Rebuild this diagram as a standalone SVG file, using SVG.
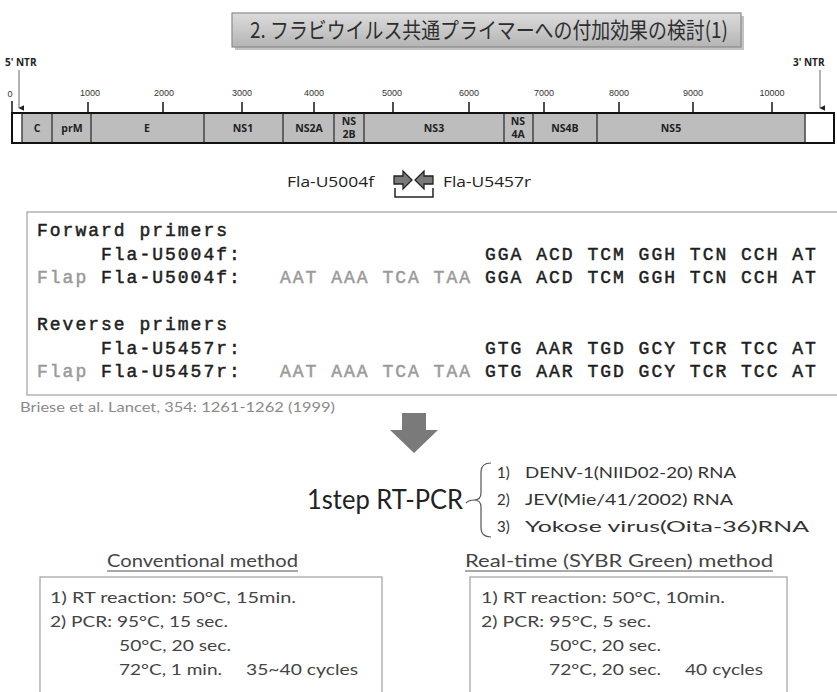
<svg xmlns="http://www.w3.org/2000/svg" width="837" height="692" viewBox="0 0 837 692">
<style>
.mono{font-family:"Liberation Mono","Courier New",monospace;font-size:18px;font-weight:normal;letter-spacing:2px;fill:#1e1e1e;stroke:#1e1e1e;stroke-width:0.5px}
.grey{fill:#9a9a9a;stroke:#9a9a9a}
.cal{font-family:Lato,"Open Sans",sans-serif;fill:#444}
.tick{font-family:"Liberation Sans",Arial,sans-serif;font-size:9px;fill:#333;text-anchor:middle}
.reg{font-family:"Open Sans","Liberation Sans",sans-serif;font-size:10.5px;font-weight:bold;fill:#222;text-anchor:middle}
.ntr{font-family:"Open Sans","Liberation Sans",sans-serif;font-size:10px;font-weight:bold;fill:#222}
.tk{stroke:#222;stroke-width:1.6}
.box{fill:#fff;stroke:#a0a0a0;stroke-width:1.2}
</style>
<defs>
<linearGradient id="tg" x1="0" y1="0" x2="0" y2="1">
<stop offset="0" stop-color="#dcdcdc"/>
<stop offset="1" stop-color="#b4b4b4"/>
</linearGradient>
<marker id="ah" viewBox="0 0 10 10" refX="5" refY="9" markerWidth="6" markerHeight="6" orient="auto-start-reverse" markerUnits="userSpaceOnUse">
<path d="M0,0 L10,0 L5,10 Z" fill="#222"/>
</marker>
</defs>

<g id="title">
<rect x="235" y="16" width="509" height="34" fill="#999" opacity="0.6"/>
<rect x="232" y="13" width="509" height="34" fill="url(#tg)" stroke="#8a8a8a" stroke-width="1.2"/>
<text x="250" y="38" font-family="'Noto Sans CJK JP',sans-serif" font-size="22" fill="#2e2e2e" textLength="478" lengthAdjust="spacingAndGlyphs">2. フラビウイルス共通プライマーへの付加効果の検討(1)</text>
</g>

<g id="genome">
<text class="ntr" x="5" y="66">5' NTR</text>
<text class="ntr" x="793" y="66">3' NTR</text>
<text class="tick" x="10" y="97">0</text>
<text class="tick" x="90" y="96">1000</text>
<text class="tick" x="164" y="96">2000</text>
<text class="tick" x="242" y="96">3000</text>
<text class="tick" x="314" y="96">4000</text>
<text class="tick" x="392" y="96">5000</text>
<text class="tick" x="469" y="96">6000</text>
<text class="tick" x="544" y="96">7000</text>
<text class="tick" x="619" y="96">8000</text>
<text class="tick" x="693" y="96">9000</text>
<text class="tick" x="772" y="96">10000</text>
<g class="tk">
<line x1="12" y1="101" x2="12" y2="113"/>
<line x1="88" y1="102" x2="88" y2="113"/>
<line x1="163" y1="102" x2="163" y2="113"/>
<line x1="242" y1="102" x2="242" y2="113"/>
<line x1="314" y1="102" x2="314" y2="113"/>
<line x1="393" y1="102" x2="393" y2="113"/>
<line x1="469" y1="102" x2="469" y2="113"/>
<line x1="544" y1="102" x2="544" y2="113"/>
<line x1="619" y1="102" x2="619" y2="113"/>
<line x1="693" y1="102" x2="693" y2="113"/>
<line x1="772" y1="102" x2="772" y2="113"/>
</g>
<line x1="19" y1="70" x2="19" y2="108" stroke="#666" stroke-width="1" marker-end="url(#ah)"/>
<line x1="820" y1="70" x2="820" y2="108" stroke="#666" stroke-width="1" marker-end="url(#ah)"/>
<rect x="12" y="113" width="822" height="30" fill="#fff"/>
<rect x="22" y="113" width="783" height="30" fill="#bdbdbd"/>
<g stroke="#444" stroke-width="1.5">
<line x1="22" y1="113" x2="22" y2="143"/>
<line x1="52" y1="113" x2="52" y2="143"/>
<line x1="91" y1="113" x2="91" y2="143"/>
<line x1="204" y1="113" x2="204" y2="143"/>
<line x1="283" y1="113" x2="283" y2="143"/>
<line x1="334" y1="113" x2="334" y2="143"/>
<line x1="364" y1="113" x2="364" y2="143"/>
<line x1="504" y1="113" x2="504" y2="143"/>
<line x1="533" y1="113" x2="533" y2="143"/>
<line x1="597" y1="113" x2="597" y2="143"/>
<line x1="805" y1="113" x2="805" y2="143"/>
</g>
<rect x="12" y="113" width="822" height="30" fill="none" stroke="#111" stroke-width="2"/>
<text class="reg" x="37" y="132">C</text>
<text class="reg" x="72" y="132">prM</text>
<text class="reg" x="147" y="132">E</text>
<text class="reg" x="243" y="132">NS1</text>
<text class="reg" x="309" y="132">NS2A</text>
<text class="reg" x="349" y="125" font-size="9.5">NS</text>
<text class="reg" x="349" y="138" font-size="9.5">2B</text>
<text class="reg" x="434" y="132">NS3</text>
<text class="reg" x="518" y="125" font-size="9.5">NS</text>
<text class="reg" x="518" y="138" font-size="9.5">4A</text>
<text class="reg" x="565" y="132">NS4B</text>
<text class="reg" x="671" y="132">NS5</text>
</g>

<g id="primer-site">
<text x="287" y="187" font-family="'Open Sans','Liberation Sans',sans-serif" font-size="15" fill="#222" textLength="87" lengthAdjust="spacingAndGlyphs">Fla-U5004f</text>
<text x="443" y="187" font-family="'Open Sans','Liberation Sans',sans-serif" font-size="15" fill="#222" textLength="88" lengthAdjust="spacingAndGlyphs">Fla-U5457r</text>
<path d="M394,176 h9 v-5 l9,9 l-9,9 v-5 h-9 Z" fill="#7a7a7a" stroke="#222" stroke-width="1.3"/>
<path d="M433,176 h-9 v-5 l-9,9 l9,9 v-5 h9 Z" fill="#7a7a7a" stroke="#222" stroke-width="1.3"/>
<path d="M395,188 V197 H433 V188" fill="none" stroke="#222" stroke-width="1.5"/>
</g>

<g id="primer-table">
<rect class="box" x="27" y="212" width="812" height="183"/>
<text class="mono" x="37" y="236">Forward primers</text>
<text class="mono" x="101" y="260">Fla-U5004f:</text>
<text class="mono" x="485" y="260">GGA ACD TCM GGH TCN CCH AT</text>
<text class="mono" y="283"><tspan class="grey" x="37">Flap</tspan><tspan x="101">Fla-U5004f:</tspan><tspan class="grey" x="280">AAT AAA TCA TAA</tspan><tspan x="485">GGA ACD TCM GGH TCN CCH AT</tspan></text>
<text class="mono" x="37" y="330">Reverse primers</text>
<text class="mono" x="101" y="354">Fla-U5457r:</text>
<text class="mono" x="485" y="354">GTG AAR TGD GCY TCR TCC AT</text>
<text class="mono" y="377"><tspan class="grey" x="37">Flap</tspan><tspan x="101">Fla-U5457r:</tspan><tspan class="grey" x="280">AAT AAA TCA TAA</tspan><tspan x="485">GTG AAR TGD GCY TCR TCC AT</tspan></text>
</g>

<g id="citation">
<text class="cal" x="20" y="412" font-size="12.5" style="fill:#8a8a8a" textLength="315" lengthAdjust="spacingAndGlyphs">Briese et al. Lancet, 354: 1261-1262 (1999)</text>
</g>

<g id="down-arrow">
<path d="M402,413 H426 V430 H438 L414,453 L390,430 H402 Z" fill="#7a7a7a"/>
</g>

<g id="rtpcr">
<text class="cal" x="307" y="509" font-size="26" style="fill:#222" textLength="156" lengthAdjust="spacingAndGlyphs">1step RT-PCR</text>
<path d="M491,463 Q481,463 481,472 V493 Q481,500 474,500 Q469,500 466,503 M474,500 Q481,500 481,507 V528 Q481,537 491,537" fill="none" stroke="#555" stroke-width="1.2"/>
<text class="cal" x="497" y="478" font-size="15" style="fill:#333">1)</text>
<text class="cal" x="525" y="478" font-size="15" style="fill:#333" textLength="211" lengthAdjust="spacingAndGlyphs">DENV-1(NIID02-20) RNA</text>
<text class="cal" x="497" y="505" font-size="15" style="fill:#333">2)</text>
<text class="cal" x="525" y="505" font-size="15" style="fill:#333" textLength="208" lengthAdjust="spacingAndGlyphs">JEV(Mie/41/2002) RNA</text>
<text class="cal" x="497" y="532" font-size="15" style="fill:#333">3)</text>
<text class="cal" x="525" y="532" font-size="15" style="fill:#333" textLength="284" lengthAdjust="spacingAndGlyphs">Yokose virus(Oita-36)RNA</text>
</g>

<g id="conventional">
<text class="cal" x="107" y="567" font-size="17" textLength="191" lengthAdjust="spacingAndGlyphs">Conventional method</text>
<line x1="107" y1="571" x2="298" y2="571" stroke="#555" stroke-width="1"/>
<rect class="box" x="40" y="577" width="342" height="130"/>
<text class="cal" x="50" y="603" font-size="16" textLength="246" lengthAdjust="spacingAndGlyphs">1) RT reaction: 50°C, 15min.</text>
<text class="cal" x="50" y="627" font-size="16" textLength="178" lengthAdjust="spacingAndGlyphs">2) PCR: 95°C, 15 sec.</text>
<text class="cal" x="119" y="651" font-size="16" textLength="112" lengthAdjust="spacingAndGlyphs">50°C, 20 sec.</text>
<text class="cal" x="119" y="675" font-size="16" textLength="103" lengthAdjust="spacingAndGlyphs">72°C, 1 min.</text>
<text class="cal" x="246" y="675" font-size="16" textLength="112" lengthAdjust="spacingAndGlyphs">35~40 cycles</text>
</g>

<g id="realtime">
<text class="cal" x="465" y="567" font-size="17" textLength="308" lengthAdjust="spacingAndGlyphs">Real-time (SYBR Green) method</text>
<line x1="465" y1="571" x2="773" y2="571" stroke="#555" stroke-width="1"/>
<rect class="box" x="470" y="577" width="317" height="130"/>
<text class="cal" x="481" y="603" font-size="16" textLength="244" lengthAdjust="spacingAndGlyphs">1) RT reaction: 50°C, 10min.</text>
<text class="cal" x="481" y="627" font-size="16" textLength="170" lengthAdjust="spacingAndGlyphs">2) PCR: 95°C, 5 sec.</text>
<text class="cal" x="549" y="651" font-size="16" textLength="112" lengthAdjust="spacingAndGlyphs">50°C, 20 sec.</text>
<text class="cal" x="549" y="675" font-size="16" textLength="112" lengthAdjust="spacingAndGlyphs">72°C, 20 sec.</text>
<text class="cal" x="685" y="675" font-size="16" textLength="78" lengthAdjust="spacingAndGlyphs">40 cycles</text>
</g>
</svg>
